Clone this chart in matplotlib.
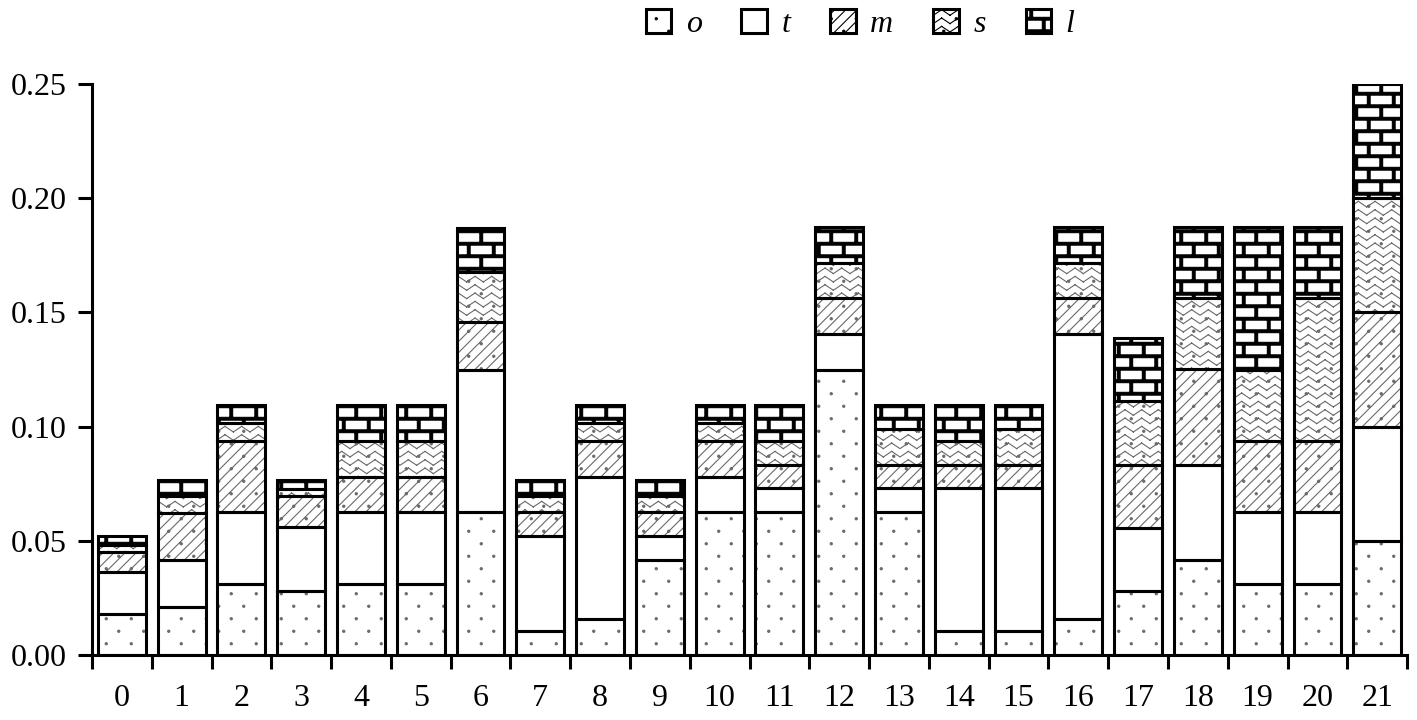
import warnings
import numpy as np
import matplotlib
matplotlib.use("Agg")
import matplotlib.pyplot as plt
import matplotlib.hatch as mhatch
from matplotlib.path import Path
from matplotlib.patches import Patch

warnings.filterwarnings("ignore")

# datos
categorias = [str(i) for i in range(22)]
o = [0.018, 0.021, 0.03125, 0.028, 0.03125, 0.03125, 0.0625, 0.0104, 0.0156, 0.0417, 0.0625,
     0.0625, 0.125, 0.0625, 0.0104, 0.0104, 0.0156, 0.0278, 0.0417, 0.03125, 0.03125, 0.05]
t = [0.0185, 0.0205, 0.03125, 0.028, 0.03125, 0.03125, 0.0625, 0.0417, 0.0625, 0.0104, 0.0156,
     0.0104, 0.0156, 0.0104, 0.0625, 0.0625, 0.125, 0.0278, 0.0417, 0.03125, 0.03125, 0.05]
m = [0.0087, 0.0207, 0.03125, 0.0138, 0.0156, 0.0156, 0.021, 0.0104, 0.0156, 0.0104, 0.0156,
     0.0104, 0.0156, 0.0104, 0.0104, 0.0104, 0.0156, 0.0278, 0.0417, 0.03125, 0.03125, 0.05]
s = [0.003, 0.0073, 0.0078, 0.003, 0.0156, 0.0156, 0.0215, 0.0073, 0.0078, 0.0073, 0.0078,
     0.0104, 0.0156, 0.0156, 0.0104, 0.0156, 0.0156, 0.0278, 0.03125, 0.03125, 0.0625, 0.05]
l = [0.004, 0.0069, 0.0078, 0.004, 0.0156, 0.0156, 0.0195, 0.0069, 0.0078, 0.0069, 0.0078,
     0.0156, 0.0156, 0.0104, 0.0156, 0.0104, 0.0156, 0.0278, 0.03125, 0.0625, 0.03125, 0.05]
nombres = ["o", "t", "m", "s", "l"]
ticks_y = [0.00, 0.05, 0.10, 0.15, 0.20, 0.25]

# tramas propias: p = puntos, z = zigzag, b = ladrillos
mhatch._validate_hatch_pattern = lambda h: None


def rect(x0, y0, x1, y1):
    v = [(x0, y0), (x1, y0), (x1, y1), (x0, y1), (x0, y0)]
    c = [Path.MOVETO, Path.LINETO, Path.LINETO, Path.LINETO, Path.CLOSEPOLY]
    return v, c


def trama_puntos():
    circ = Path.unit_circle()
    verts, codes = [], []
    filas, cols = 8, 4
    for r in range(filas):
        y = (r + 0.5) / filas
        for c in range(cols):
            xx = (c + 0.25 + 0.5 * (r % 2)) / cols
            verts += list(circ.vertices * 0.011 + [xx, y])
            codes += list(circ.codes)
    return verts, codes


def trama_zigzag():
    verts, codes = [], []
    filas, per = 12, 6
    for r in range(filas):
        y = (r + 0.5) / filas
        pts = [(k / (2 * per), y + (0.028 if k % 2 else -0.028)) for k in range(2 * per + 1)]
        for a, b in zip(pts[:-1], pts[1:]):
            verts += [a, b]
            codes += [Path.MOVETO, Path.LINETO]
    return verts, codes


def trama_ladrillos():
    verts, codes = [], []
    filas, cols, th = 8, 4, 0.014
    for r in range(filas):
        y = (r + 0.5) / filas
        v, c = rect(0, y - th, 1, y + th)
        verts += v
        codes += c
        off = 0.25 if r % 2 == 0 else 0.75
        for k in range(cols):
            xx = (k + off) / cols
            v, c = rect(xx - th, y, xx + th, min(1.0, y + 1 / filas))
            verts += v
            codes += c
            if r == filas - 1:
                v, c = rect(xx - th, 0, xx + th, 0.5 / filas)
                verts += v
                codes += c
    return verts, codes


def clase_trama(letra, fabrica):
    class Trama(mhatch.HatchPatternBase):
        def __init__(self, hatch, density):
            if hatch and letra in hatch:
                v, c = fabrica()
                self.v = np.array(v, float)
                self.c = np.array(c, Path.code_type)
            else:
                self.v = np.empty((0, 2))
                self.c = np.empty(0, Path.code_type)
            self.num_vertices = len(self.v)

        def set_vertices_and_codes(self, vertices, codes):
            vertices[:] = self.v
            codes[:] = self.c
    return Trama


mhatch._hatch_types.append(clase_trama("p", trama_puntos))
mhatch._hatch_types.append(clase_trama("z", trama_zigzag))
mhatch._hatch_types.append(clase_trama("b", trama_ladrillos))

tramas = {"o": "p", "t": "", "m": "///p", "s": "zp", "l": "b"}

plt.rcParams["font.family"] = ["Liberation Serif", "DejaVu Serif"]
plt.rcParams["hatch.linewidth"] = 0.8

fig = plt.figure(figsize=(14.17, 7.2), dpi=100)
ax = fig.add_axes([0.0649, 0.0903, 0.9281, 0.793])

x = np.arange(len(categorias))
fondo = np.zeros(len(x))
for nombre, valores in zip(nombres, [o, t, m, s, l]):
    color_trama = "black" if nombre == "l" else "#6a6a6a"
    ax.bar(x, valores, 0.8, bottom=fondo, color="white", edgecolor=color_trama,
           linewidth=0, hatch=tramas[nombre], zorder=2)
    ax.bar(x, valores, 0.8, bottom=fondo, fill=False, edgecolor="black",
           linewidth=2.2, zorder=3)
    fondo += np.array(valores)

ax.set_xlim(-0.5, len(x) - 0.5)
ax.set_ylim(0, 0.25)
ax.spines["top"].set_visible(False)
ax.spines["right"].set_visible(False)
ax.spines["left"].set_linewidth(2.2)
ax.spines["bottom"].set_linewidth(2.2)

ax.set_yticks(ticks_y)
ax.set_yticklabels([f"{v:.2f}" for v in ticks_y])
ax.tick_params(axis="y", direction="out", length=10, width=2.2, labelsize=23, pad=8)

ax.set_xticks(x)
ax.set_xticklabels(categorias)
ax.set_xticks(np.arange(-0.5, len(x)), minor=True)
ax.tick_params(axis="x", which="major", length=0, labelsize=23, pad=21)
ax.tick_params(axis="x", which="minor", direction="out", length=10, width=2.2)

manejadores = [Patch(facecolor="white", edgecolor="black", linewidth=2.2, hatch=tramas[n])
               for n in nombres]
fig.legend(manejadores, nombres, loc="center", bbox_to_anchor=(860 / 1417, 1 - 24 / 720),
           ncol=5, frameon=False, prop={"family": "Liberation Serif", "style": "italic", "size": 23},
           handlelength=0.8, handleheight=0.8, handletextpad=0.45, columnspacing=1.25)

fig.savefig("out.png", dpi=100)
